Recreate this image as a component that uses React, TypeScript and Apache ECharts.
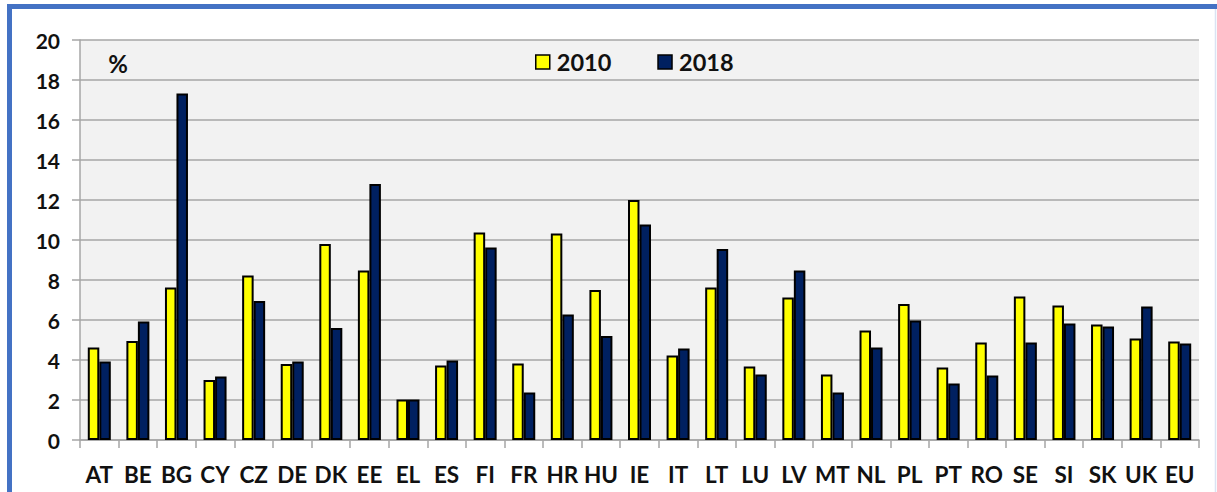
import React, { useEffect, useRef } from "react";
import * as echarts from "echarts";

const categories = ["AT","BE","BG","CY","CZ","DE","DK","EE","EL","ES","FI","FR","HR","HU","IE","IT","LT","LU","LV","MT","NL","PL","PT","RO","SE","SI","SK","UK","EU"];
const values2010 = [4.63,4.95,7.62,3.0,8.22,3.8,9.8,8.47,2.03,3.73,10.38,3.83,10.33,7.5,12.0,4.23,7.62,3.67,7.12,3.28,5.47,6.8,3.62,4.87,7.17,6.73,5.77,5.08,4.93];
const values2018 = [3.92,5.92,17.33,3.17,6.95,3.92,5.6,12.8,2.03,3.97,9.63,2.38,6.28,5.2,10.78,4.57,9.55,3.28,8.47,2.38,4.63,5.98,2.83,3.22,4.87,5.83,5.67,6.67,4.82];
const seriesNames = ["2010", "2018"];
const yTicks = { min: 0, max: 20, interval: 2 };

const FONT = "Lato";
const TEXT = "#111111";
const GRID_GRAY = "#A6A6A6";

export default function App() {
  const ref = useRef<HTMLDivElement>(null);
  useEffect(() => {
    if (!ref.current) return;
    const chart = echarts.init(ref.current, undefined, { renderer: "svg" });
    chart.setOption({
      animation: false,
      backgroundColor: "#ffffff",
      textStyle: { fontFamily: FONT },
      grid: {
        left: 80, right: 18, top: 40, bottom: 52,
        show: true, backgroundColor: "#F2F2F2", borderWidth: 0,
      },
      legend: {
        data: seriesNames,
        left: 535, top: 50, padding: 0,
        itemWidth: 14, itemHeight: 14, itemGap: 46,
        icon: "rect",
        itemStyle: { borderColor: "#000", borderWidth: 1.5 },
        textStyle: { fontFamily: FONT, fontSize: 23.5, fontWeight: "bold", color: TEXT, padding: [0, 0, 0, 2] },
      },
      xAxis: {
        type: "category",
        data: categories,
        axisLine: { lineStyle: { color: GRID_GRAY, width: 1.5 } },
        axisTick: { show: true, length: 8, lineStyle: { color: GRID_GRAY, width: 1.5 } },
        axisLabel: { fontFamily: FONT, fontSize: 22.5, fontWeight: "bold", color: TEXT, margin: 23, interval: 0 },
      },
      yAxis: {
        type: "value",
        min: yTicks.min, max: yTicks.max, interval: yTicks.interval,
        axisLine: { show: true, lineStyle: { color: GRID_GRAY, width: 1.5 } },
        axisTick: { show: true, length: 8, lineStyle: { color: GRID_GRAY, width: 1.5 } },
        splitLine: { lineStyle: { color: GRID_GRAY, width: 1.5 } },
        axisLabel: { fontFamily: FONT, fontSize: 21, fontWeight: "bold", color: TEXT, margin: 20 },
      },
      series: [
        {
          name: seriesNames[0], type: "bar", data: values2010,
          barWidth: 11.5, barGap: "0%",
          itemStyle: { color: "#FFFF00", borderColor: "#000", borderWidth: 2 },
        },
        {
          name: seriesNames[1], type: "bar", data: values2018,
          barWidth: 11.5, barGap: "0%",
          itemStyle: { color: "#002060", borderColor: "#000", borderWidth: 2 },
        },
      ],
      graphic: [
        { type: "line", shape: { x1: 7, y1: 6.5, x2: 1217, y2: 6.5 }, style: { stroke: "#4472C4", lineWidth: 5 } },
        { type: "line", shape: { x1: 9.5, y1: 4, x2: 9.5, y2: 492 }, style: { stroke: "#4472C4", lineWidth: 5 } },
        { type: "line", shape: { x1: 1215.5, y1: 9, x2: 1215.5, y2: 492 }, style: { stroke: "#DAE3F3", lineWidth: 1.5 } },
        {
          type: "text", x: 118, y: 63,
          style: { text: "%", fontFamily: FONT, fontSize: 24, fontWeight: "bold", fill: TEXT, align: "center", verticalAlign: "middle" },
        },
      ],
    });
    return () => chart.dispose();
  }, []);
  return <div ref={ref} style={{ position: "absolute", left: 0, top: 0, width: 1217, height: 492 }} />;
}
